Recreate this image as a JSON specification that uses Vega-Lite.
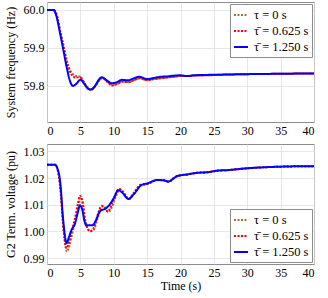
{
 "$schema": "https://vega.github.io/schema/vega-lite/v6.json",
 "padding": {"left": 3, "top": 1, "right": 5, "bottom": 4},
 "config": {
  "font": "Liberation Serif",
  "view": {"stroke": "#8c8c8c", "strokeWidth": 1},
  "axis": {"domain": false, "ticks": false, "gridColor": "#dcdcdc", "gridWidth": 0.7, "labelFont": "Liberation Serif", "labelFontSize": 12, "labelColor": "#000", "titleFont": "Liberation Serif", "titleFontSize": 12, "titleFontWeight": "normal", "titleColor": "#000", "labelPadding": 3},
  "legend": {"orient": "top-right", "offset": 2, "fillColor": "#ffffff", "strokeColor": "#8c8c8c", "padding": 3, "symbolType": "stroke", "symbolSize": 196, "symbolStrokeWidth": 2, "labelFont": "Liberation Serif", "labelFontSize": 12.5, "labelColor": "#000", "rowPadding": 1, "labelOffset": 5, "cornerRadius": 0}
 },
 "datasets": {
  "freq": [
   {"t":0,"s":"a","f":60.0},{"t":1.0,"s":"a","f":60.0},{"t":1.4,"s":"a","f":59.99},{"t":2.0,"s":"a","f":59.945},{"t":2.5,"s":"a","f":59.905},{"t":3.0,"s":"a","f":59.865},{"t":3.5,"s":"a","f":59.84},{"t":3.9,"s":"a","f":59.831},{"t":4.4,"s":"a","f":59.826},{"t":4.9,"s":"a","f":59.825},{"t":5.5,"s":"a","f":59.812},{"t":6.0,"s":"a","f":59.798},{"t":6.6,"s":"a","f":59.791},{"t":7.3,"s":"a","f":59.802},{"t":7.8,"s":"a","f":59.815},{"t":8.3,"s":"a","f":59.822},{"t":9.0,"s":"a","f":59.812},{"t":9.8,"s":"a","f":59.802},{"t":10.5,"s":"a","f":59.806},{"t":11.3,"s":"a","f":59.812},{"t":12.3,"s":"a","f":59.81},{"t":13.0,"s":"a","f":59.815},{"t":13.9,"s":"a","f":59.82},{"t":15.0,"s":"a","f":59.815},{"t":16,"s":"a","f":59.818},{"t":17,"s":"a","f":59.82},{"t":18,"s":"a","f":59.822},{"t":19,"s":"a","f":59.824},{"t":20,"s":"a","f":59.826},{"t":21,"s":"a","f":59.826},{"t":22,"s":"a","f":59.827},{"t":24,"s":"a","f":59.828},{"t":27,"s":"a","f":59.83},{"t":30,"s":"a","f":59.831},{"t":35,"s":"a","f":59.832},{"t":40,"s":"a","f":59.833},
   {"t":0,"s":"b","f":60.0},{"t":1.0,"s":"b","f":60.0},{"t":1.4,"s":"b","f":59.99},{"t":2.0,"s":"b","f":59.94},{"t":2.5,"s":"b","f":59.9},{"t":3.0,"s":"b","f":59.86},{"t":3.5,"s":"b","f":59.835},{"t":3.8,"s":"b","f":59.827},{"t":4.3,"s":"b","f":59.822},{"t":4.9,"s":"b","f":59.823},{"t":5.5,"s":"b","f":59.81},{"t":6.0,"s":"b","f":59.797},{"t":6.6,"s":"b","f":59.79},{"t":7.3,"s":"b","f":59.801},{"t":7.8,"s":"b","f":59.814},{"t":8.3,"s":"b","f":59.821},{"t":9.0,"s":"b","f":59.811},{"t":9.8,"s":"b","f":59.801},{"t":10.5,"s":"b","f":59.805},{"t":11.3,"s":"b","f":59.811},{"t":12.3,"s":"b","f":59.81},{"t":13.0,"s":"b","f":59.815},{"t":13.9,"s":"b","f":59.82},{"t":15.0,"s":"b","f":59.815},{"t":16,"s":"b","f":59.818},{"t":17,"s":"b","f":59.82},{"t":18,"s":"b","f":59.822},{"t":19,"s":"b","f":59.824},{"t":20,"s":"b","f":59.826},{"t":21,"s":"b","f":59.826},{"t":22,"s":"b","f":59.827},{"t":24,"s":"b","f":59.828},{"t":27,"s":"b","f":59.83},{"t":30,"s":"b","f":59.831},{"t":35,"s":"b","f":59.832},{"t":40,"s":"b","f":59.833},
   {"t":0,"s":"c","f":60.0},{"t":1.0,"s":"c","f":60.0},{"t":1.3,"s":"c","f":59.99},{"t":2.0,"s":"c","f":59.935},{"t":2.5,"s":"c","f":59.89},{"t":3.0,"s":"c","f":59.845},{"t":3.5,"s":"c","f":59.81},{"t":3.9,"s":"c","f":59.8},{"t":4.4,"s":"c","f":59.806},{"t":5.0,"s":"c","f":59.816},{"t":5.6,"s":"c","f":59.805},{"t":6.0,"s":"c","f":59.795},{"t":6.5,"s":"c","f":59.79},{"t":7.2,"s":"c","f":59.8},{"t":7.7,"s":"c","f":59.815},{"t":8.2,"s":"c","f":59.823},{"t":9.0,"s":"c","f":59.814},{"t":9.7,"s":"c","f":59.807},{"t":10.5,"s":"c","f":59.81},{"t":11.2,"s":"c","f":59.816},{"t":12.2,"s":"c","f":59.815},{"t":13.0,"s":"c","f":59.82},{"t":13.8,"s":"c","f":59.824},{"t":15.0,"s":"c","f":59.818},{"t":16,"s":"c","f":59.821},{"t":17,"s":"c","f":59.824},{"t":18,"s":"c","f":59.825},{"t":19,"s":"c","f":59.827},{"t":20,"s":"c","f":59.828},{"t":21,"s":"c","f":59.826},{"t":22,"s":"c","f":59.828},{"t":24,"s":"c","f":59.829},{"t":27,"s":"c","f":59.83},{"t":30,"s":"c","f":59.831},{"t":35,"s":"c","f":59.832},{"t":40,"s":"c","f":59.833}
  ],
  "volt": [
   {"t":0,"s":"a","v":1.025},{"t":1.3,"s":"a","v":1.025},{"t":1.7,"s":"a","v":1.022},{"t":2.1,"s":"a","v":1.014},{"t":2.5,"s":"a","v":1.0},{"t":3.0,"s":"a","v":0.9925},{"t":3.4,"s":"a","v":0.995},{"t":3.8,"s":"a","v":0.9995},{"t":4.3,"s":"a","v":1.0045},{"t":4.7,"s":"a","v":1.0095},{"t":5.05,"s":"a","v":1.0128},{"t":5.4,"s":"a","v":1.0105},{"t":5.8,"s":"a","v":1.0035},{"t":6.5,"s":"a","v":1.0},{"t":7.0,"s":"a","v":1.0006},{"t":7.6,"s":"a","v":1.005},{"t":8.3,"s":"a","v":1.0093},{"t":8.7,"s":"a","v":1.009},{"t":9.2,"s":"a","v":1.0072},{"t":9.7,"s":"a","v":1.009},{"t":10.3,"s":"a","v":1.013},{"t":10.9,"s":"a","v":1.0158},{"t":11.4,"s":"a","v":1.015},{"t":12.3,"s":"a","v":1.0122},{"t":13.1,"s":"a","v":1.0143},{"t":14.1,"s":"a","v":1.0173},{"t":15,"s":"a","v":1.0177},{"t":16.5,"s":"a","v":1.0192},{"t":17.5,"s":"a","v":1.0191},{"t":18.2,"s":"a","v":1.0186},{"t":19,"s":"a","v":1.0199},{"t":19.5,"s":"a","v":1.0207},{"t":21,"s":"a","v":1.0213},{"t":22.5,"s":"a","v":1.022},{"t":24,"s":"a","v":1.0222},{"t":25.5,"s":"a","v":1.0228},{"t":27,"s":"a","v":1.023},{"t":30,"s":"a","v":1.0237},{"t":35,"s":"a","v":1.0243},{"t":40,"s":"a","v":1.0245},
   {"t":0,"s":"b","v":1.025},{"t":1.2,"s":"b","v":1.025},{"t":1.6,"s":"b","v":1.023},{"t":2.0,"s":"b","v":1.016},{"t":2.4,"s":"b","v":1.003},{"t":2.95,"s":"b","v":0.9937},{"t":3.3,"s":"b","v":0.996},{"t":3.7,"s":"b","v":1.0},{"t":4.2,"s":"b","v":1.005},{"t":4.6,"s":"b","v":1.01},{"t":4.95,"s":"b","v":1.0134},{"t":5.3,"s":"b","v":1.011},{"t":5.7,"s":"b","v":1.004},{"t":6.45,"s":"b","v":1.0001},{"t":6.9,"s":"b","v":1.0008},{"t":7.5,"s":"b","v":1.0055},{"t":8.2,"s":"b","v":1.0096},{"t":8.6,"s":"b","v":1.0092},{"t":9.1,"s":"b","v":1.0075},{"t":9.6,"s":"b","v":1.0095},{"t":10.2,"s":"b","v":1.0135},{"t":10.8,"s":"b","v":1.016},{"t":11.3,"s":"b","v":1.015},{"t":12.2,"s":"b","v":1.0122},{"t":13.0,"s":"b","v":1.0145},{"t":14.0,"s":"b","v":1.0175},{"t":15,"s":"b","v":1.0178},{"t":16.5,"s":"b","v":1.0193},{"t":17.5,"s":"b","v":1.0192},{"t":18.2,"s":"b","v":1.0187},{"t":19,"s":"b","v":1.02},{"t":19.5,"s":"b","v":1.0208},{"t":21,"s":"b","v":1.0214},{"t":22.5,"s":"b","v":1.022},{"t":24,"s":"b","v":1.0222},{"t":25.5,"s":"b","v":1.0228},{"t":27,"s":"b","v":1.023},{"t":30,"s":"b","v":1.0237},{"t":35,"s":"b","v":1.0243},{"t":40,"s":"b","v":1.0245},
   {"t":0,"s":"c","v":1.025},{"t":1.2,"s":"c","v":1.025},{"t":1.5,"s":"c","v":1.024},{"t":2.0,"s":"c","v":1.018},{"t":2.4,"s":"c","v":1.005},{"t":2.95,"s":"c","v":0.9957},{"t":3.3,"s":"c","v":0.998},{"t":3.7,"s":"c","v":1.0007},{"t":4.2,"s":"c","v":1.003},{"t":4.6,"s":"c","v":1.007},{"t":4.95,"s":"c","v":1.0098},{"t":5.3,"s":"c","v":1.008},{"t":5.6,"s":"c","v":1.004},{"t":5.9,"s":"c","v":1.0023},{"t":6.8,"s":"c","v":1.0023},{"t":7.3,"s":"c","v":1.004},{"t":7.9,"s":"c","v":1.0075},{"t":8.9,"s":"c","v":1.0088},{"t":9.5,"s":"c","v":1.0105},{"t":10.0,"s":"c","v":1.0125},{"t":10.7,"s":"c","v":1.0155},{"t":11.3,"s":"c","v":1.0145},{"t":12.2,"s":"c","v":1.0122},{"t":13.0,"s":"c","v":1.014},{"t":14.2,"s":"c","v":1.0175},{"t":15.0,"s":"c","v":1.018},{"t":16.5,"s":"c","v":1.0193},{"t":17.5,"s":"c","v":1.0192},{"t":18.2,"s":"c","v":1.0187},{"t":19.0,"s":"c","v":1.02},{"t":19.5,"s":"c","v":1.0208},{"t":21,"s":"c","v":1.0214},{"t":22.5,"s":"c","v":1.022},{"t":24,"s":"c","v":1.0222},{"t":25.5,"s":"c","v":1.0228},{"t":27,"s":"c","v":1.023},{"t":30,"s":"c","v":1.0237},{"t":35,"s":"c","v":1.0243},{"t":40,"s":"c","v":1.0245}
  ]
 },
 "bounds": "flush",
 "spacing": 22,
 "resolve": {"scale": {"x": "independent", "y": "independent", "color": "independent", "strokeDash": "independent"}, "legend": {"color": "independent", "strokeDash": "independent"}},
 "vconcat": [
  {
   "width": 267, "height": 120,
   "data": {"name": "freq"},
   "mark": {"type": "line", "strokeWidth": 2, "interpolate": "monotone", "clip": true},
   "encoding": {
    "x": {"field": "t", "type": "quantitative", "title": null, "scale": {"domain": [0, 40], "nice": false}, "axis": {"values": [0,5,10,15,20,25,30,35,40]}},
    "y": {"field": "f", "type": "quantitative", "title": "System frequency (Hz)", "scale": {"domain": [59.705, 60.021], "nice": false, "zero": false}, "axis": {"values": [59.8, 59.9, 60.0], "format": ".1f", "titlePadding": 6}},
    "color": {"field": "s", "type": "nominal", "title": null, "scale": {"domain": ["a","b","c"], "range": ["#a0703c", "#ff0000", "#0000ff"]}, "legend": {"labelExpr": "datum.value == 'a' ? 'τ = 0 s' : datum.value == 'b' ? 'τ̄ = 0.625 s' : 'τ̄ = 1.250 s'"}},
    "strokeDash": {"field": "s", "type": "nominal", "title": null, "scale": {"domain": ["a","b","c"], "range": [[2,1.5],[2,1.5],[1,0]]}, "legend": {"labelExpr": "datum.value == 'a' ? 'τ = 0 s' : datum.value == 'b' ? 'τ̄ = 0.625 s' : 'τ̄ = 1.250 s'"}}
   }
  },
  {
   "width": 267, "height": 120,
   "data": {"name": "volt"},
   "mark": {"type": "line", "strokeWidth": 2, "interpolate": "monotone", "clip": true},
   "encoding": {
    "x": {"field": "t", "type": "quantitative", "title": "Time (s)", "scale": {"domain": [0, 40], "nice": false}, "axis": {"values": [0,5,10,15,20,25,30,35,40], "titlePadding": 2}},
    "y": {"field": "v", "type": "quantitative", "title": "G2 Term. voltage (pu)", "scale": {"domain": [0.9878, 1.0328], "nice": false, "zero": false}, "axis": {"values": [0.99, 1.0, 1.01, 1.02, 1.03], "format": ".2f", "titlePadding": 6}},
    "color": {"field": "s", "type": "nominal", "title": null, "scale": {"domain": ["a","b","c"], "range": ["#a0703c", "#ff0000", "#0000ff"]}, "legend": {"orient": "bottom-right", "labelExpr": "datum.value == 'a' ? 'τ = 0 s' : datum.value == 'b' ? 'τ̄ = 0.625 s' : 'τ̄ = 1.250 s'"}},
    "strokeDash": {"field": "s", "type": "nominal", "title": null, "scale": {"domain": ["a","b","c"], "range": [[2,1.5],[2,1.5],[1,0]]}, "legend": {"orient": "bottom-right", "labelExpr": "datum.value == 'a' ? 'τ = 0 s' : datum.value == 'b' ? 'τ̄ = 0.625 s' : 'τ̄ = 1.250 s'"}}
   }
  }
 ]
}
